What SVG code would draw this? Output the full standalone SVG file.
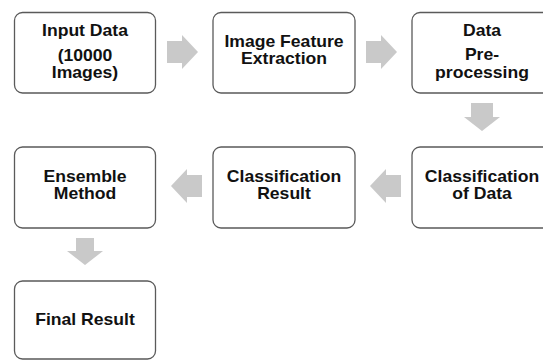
<svg xmlns="http://www.w3.org/2000/svg" width="543" height="360" viewBox="0 0 543 360">
<style>
.box{fill:#ffffff;stroke:#5a5a5a;stroke-width:1.3}
.arr{fill:#c9c9c9}
.t{font-family:"Liberation Sans",Arial,Helvetica,sans-serif;font-weight:bold;font-size:16px;fill:#111111;text-anchor:middle}
</style>
<rect width="543" height="360" fill="#ffffff"/>
<g id="connectors">
<path class="arr" d="M167 41 H182 V35 L198 52 L182 69 V63 H167 Z"/>
<path class="arr" d="M366 41 H381 V35 L397 52 L381 69 V63 H366 Z"/>
<path class="arr" d="M471 103 V117 H464 L482 131 L500 117 H493 V103 Z"/>
<path class="arr" d="M202 175 H187 V169 L171 186 L187 203 V197 H202 Z"/>
<path class="arr" d="M401 175 H386 V169 L370 186 L386 203 V197 H401 Z"/>
<path class="arr" d="M76 238 V251 H67 L85 265 L103 251 H94 V238 Z"/>
</g>
<g id="input-data">
<rect class="box" x="14.5" y="12.5" width="141" height="80.5" rx="8"/>
<g transform="translate(85 0) scale(1.1 1)">
<text class="t" x="0" y="36.5">Input Data</text>
<text class="t" x="0" y="61">(10000</text>
<text class="t" x="0" y="78">Images)</text>
</g>
</g>
<g id="image-feature-extraction">
<rect class="box" x="213" y="12.5" width="142" height="80.5" rx="8"/>
<g transform="translate(284 0) scale(1.1 1)">
<text class="t" x="0" y="47.5">Image Feature</text>
<text class="t" x="0" y="64.5">Extraction</text>
</g>
</g>
<g id="data-preprocessing">
<rect class="box" x="412" y="12.5" width="142" height="80.5" rx="8"/>
<g transform="translate(482 0) scale(1.1 1)">
<text class="t" x="0" y="36.5">Data</text>
<text class="t" x="0" y="60.5">Pre-</text>
<text class="t" x="0" y="78">processing</text>
</g>
</g>
<g id="classification-of-data">
<rect class="box" x="412" y="147" width="142" height="81" rx="8"/>
<g transform="translate(482 0) scale(1.1 1)">
<text class="t" x="0" y="182">Classification</text>
<text class="t" x="0" y="199">of Data</text>
</g>
</g>
<g id="classification-result">
<rect class="box" x="213" y="147" width="142" height="81" rx="8"/>
<g transform="translate(284 0) scale(1.1 1)">
<text class="t" x="0" y="182">Classification</text>
<text class="t" x="0" y="199">Result</text>
</g>
</g>
<g id="ensemble-method">
<rect class="box" x="14.5" y="147" width="141" height="81" rx="8"/>
<g transform="translate(85 0) scale(1.1 1)">
<text class="t" x="0" y="182">Ensemble</text>
<text class="t" x="0" y="199">Method</text>
</g>
</g>
<g id="final-result">
<rect class="box" x="14.5" y="281" width="141" height="78" rx="8"/>
<g transform="translate(85 0) scale(1.1 1)">
<text class="t" x="0" y="325">Final Result</text>
</g>
</g>
</svg>
